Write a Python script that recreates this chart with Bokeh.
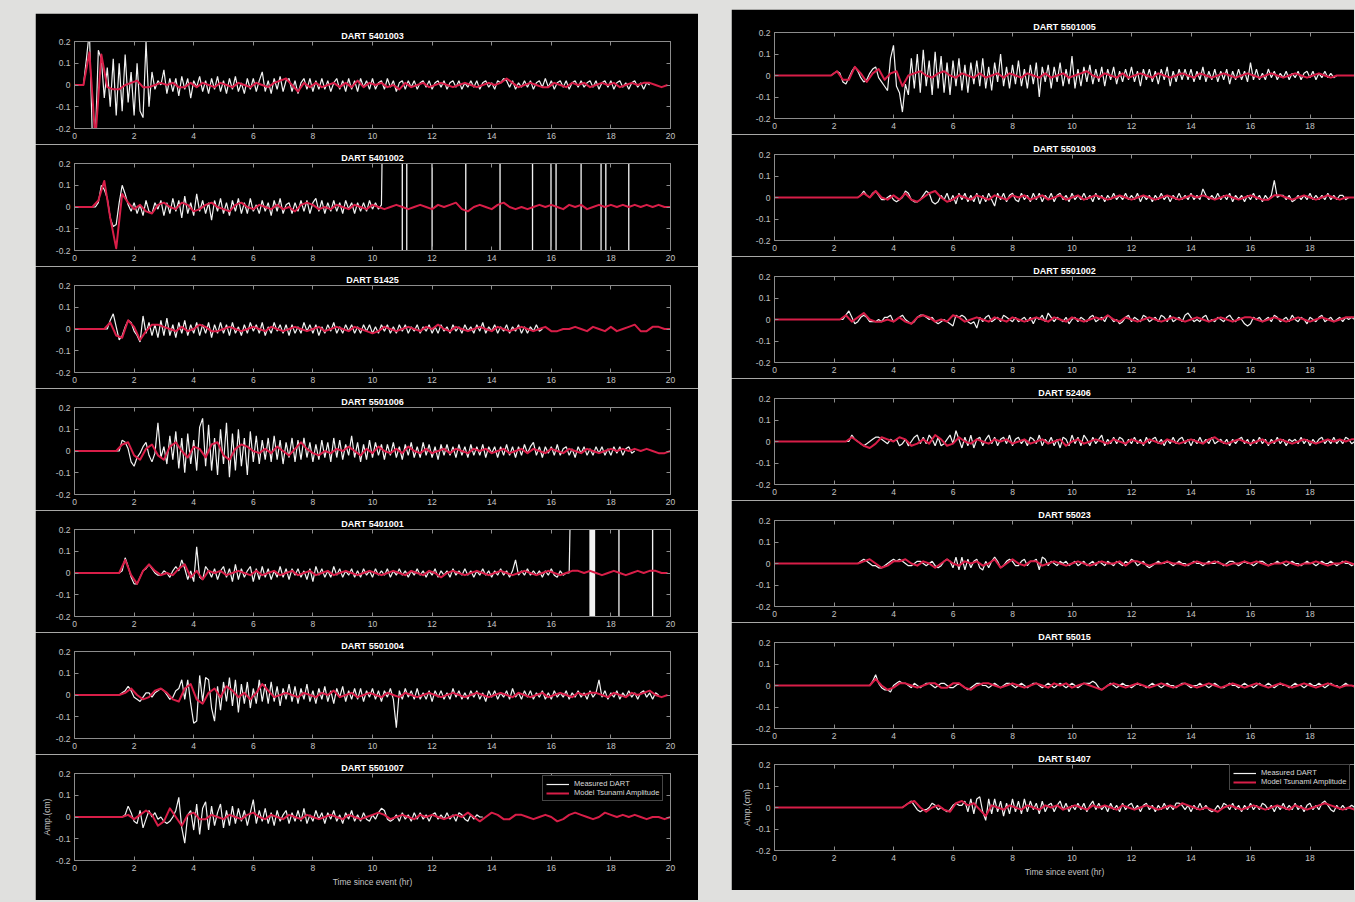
import numpy as np
from bokeh.plotting import figure
from bokeh.layouts import column, row
from bokeh.models import (LinearAxis, FixedTicker, CustomJSTickFormatter, Range1d,
                          Spacer, Legend, LegendItem, GlobalInlineStyleSheet)
from bokeh.embed import file_html
from bokeh.resources import INLINE

# ---------------------------------------------------------------- data
# amplitudes are given in hundredths of a cm (0.01 cm); times in hours
SCALE = 0.01
MEAS_DT = 0.1    # sampling of the measured (white) traces
MODEL_DT = 0.2   # sampling of the model (red) traces
OFF = 0.6        # off-scale value (cm) used for the saturated DART segments

left_names = ["DART 5401003", "DART 5401002", "DART 51425", "DART 5501006",
              "DART 5401001", "DART 5501004", "DART 5501007"]
right_names = ["DART 5501005", "DART 5501003", "DART 5501002", "DART 52406",
               "DART 55023", "DART 55015", "DART 51407"]

left_meas_t0 = [0.3, 0.7, 1.1, 1.5, 1.5, 1.5, 1.5]
left_model_t0 = [0.3, 0.6, 1.0, 1.4, 1.5, 1.5, 1.4]
right_meas_t0 = [1.9, 2.8, 2.3, 2.5, 2.8, 3.2, 4.3]
right_model_t0 = [1.9, 2.8, 2.2, 2.4, 2.8, 3.2, 4.3]

x_ticks = [0, 2, 4, 6, 8, 10, 12, 14, 16, 18, 20]
y_ticks = [-0.2, -0.1, 0, 0.1, 0.2]

# saturated segments (white vertical lines)
jump_5401002 = 10.36
spikes_5401002 = [11.0, 11.15, 12.0, 13.13, 14.28, 15.37, 15.99, 16.16, 17.0, 17.67, 17.83, 18.6]
jump_5401001 = 16.68
spikes_5401001 = [17.3, 17.33, 17.36, 17.39, 17.42, 17.45, 18.27, 19.4]

m_5401003 = [0,12,25,-25,-25,16,12,-6,8,-10,
             12,-14,10,-12,14,-8,6,-14,10,-12,
             -15,20,-10,6,-2,2,0,7,-4,3,
             -3,3,-5,4,-2,3,-6,2,-1,4,
             -3,2,-4,3,-2,4,-3,2,-4,3,
             -2,4,-3,1,-4,3,-2,3,-3,2,
             6,-3,2,-4,3,-2,4,-3,2,3,
             -3,2,-4,1,3,-2,3,-3,2,-2,
             3,-2,2,-3,1,3,-2,2,-3,3,
             -2,2,-3,3,-1,2,-2,3,-2,1,
             2,-2,3,-1,2,-3,1,2,-2,2,
             -1,2,-2,1,2,-1,2,-2,1,2,
             -1,2,-2,1,2,-1,2,-2,1,-1,
             2,-1,2,-2,1,2,-1,1,-2,2,
             1,3,2,-1,2,-2,1,-1,2,-1,
             2,-2,1,2,-1,3,-1,2,-2,1,
             2,-1,2,-2,1,2,-1,2,-1,1,
             2,-1,2,-2,1,2,-1,2,-2,1,
             2,-1,1,-2,1,2,-1,1,-2,1,0]
s_5401003 = [0,15,-25,14,-1,-2,-2,0,1,2,
             -1,-1,0,1,0,1,-1,-1,1,-1,
             1,0,-1,1,0,-1,1,0,-1,1,
             0,-1,1,2,3,0,-3,1,-1,1,
             -1,0,1,-1,1,-1,2,-1,1,0,
             1,-1,0,-2,1,-1,0,1,-1,0,
             1,0,-1,0,1,0,-1,0,1,0,
             1,3,1,-1,0,1,0,-1,-1,1,
             0,-1,1,0,1,-1,0,1,0,1,
             -1,0,1,0,1,1,0,-1,0]

m_5401002 = [0,2,10,8,4,-5,-9,-8,2,10,
             6,1,-2,2,-3,1,-4,3,-2,-3,
             2,-1,3,-4,2,-3,4,-2,3,-5,
             5,-3,2,-4,6,-2,3,-3,2,-6,
             3,-2,4,-3,2,-4,3,-2,4,-3,
             2,-3,4,-2,1,-3,3,-2,2,-4,
             3,-2,4,-3,1,2,-3,2,-2,3,
             -2,3,-3,2,4,-2,3,-3,2,-2,
             3,-2,2,-3,3,-1,2,-3,2,-2,
             2,-2,3,-1,2,-1,1]
s_5401002 = [0,3,12,-5,-19,6,2,-1,1,-2,
             -3,1,2,0,-1,2,1,-2,-1,1,
             2,0,-1,-2,1,2,0,-1,1,0,
             -1,1,-1,0,-2,1,2,1,-1,0,
             -1,1,0,-1,1,0,-1,1,0,-1,
             0,1,0,-1,0,1,0,-1,1,0,
             1,2,-1,-2,0,1,0,-1,1,2,
             0,-1,0,-1,0,1,0,1,0,-1,
             1,0,1,-1,0,1,0,1,0,1,
             0,1,0,1,0,1,0,0]

m_51425 = [0,4,7,1,-5,-3,1,4,3,-1,
           -3,-6,6,-2,3,-3,2,-4,4,-3,
           5,-3,2,-4,3,-2,4,-3,2,-2,
           3,-3,2,-2,3,-4,2,-2,3,-2,
           2,-3,3,-2,1,-3,2,-2,3,-1,
           2,-2,3,-3,1,-2,3,-1,2,-2,
           2,-3,2,-2,1,-2,3,-1,2,-2,
           2,-3,1,-2,2,-1,3,-2,1,-2,
           2,-1,2,-2,1,-2,2,-1,2,-2,
           1,-2,2,-1,2,-2,1,-2,2,-1,
           2,-2,1,-1,2,-2,1,-1,2,-2,
           1,-2,2,-1,1,-2,2,-1,1,-2,
           2,-1,1,-2,2,-1,3,-2,1,-1,
           2,-2,1,-1,2,-2,1,-1,2,-2,
           1,-2,1,-1,2,-1,0]
s_51425 = [0,3,-3,-4,4,1,-5,-1,2,2,
           1,0,-1,1,-1,0,2,1,-1,-1,
           0,1,0,-1,0,1,0,-1,1,0,
           -1,0,1,0,-1,0,1,-1,0,1,
           0,-1,1,0,-1,-2,-1,1,0,-1,
           0,1,0,-1,1,0,2,0,-1,1,
           0,-1,0,1,0,-1,1,0,-1,0,
           1,0,-1,0,1,-1,-1,0,0,1,
           0,-1,1,0,-1,1,-1,0,1,2,
           -1,-1,1,1,0,0]

m_5501006 = [0,5,4,1,-5,-7,-3,-1,2,4,
             -2,-5,-1,13,-3,2,-6,7,-4,9,
             -8,6,-10,8,-6,5,-9,11,15,-7,
             12,-9,6,-11,10,-6,13,-12,8,-9,
             10,-7,6,-11,9,-5,7,-6,5,-4,
             6,-5,7,-4,5,-6,4,-3,6,-5,
             5,-4,6,-3,4,-5,3,-4,5,-3,
             4,-5,6,-3,5,-4,3,-2,7,-3,
             4,-5,3,-4,5,-3,4,-2,3,-4,
             3,-2,4,-3,2,-4,3,-2,4,-3,
             2,-3,4,-2,3,-3,2,-4,3,-2,
             3,-2,2,-3,3,-2,2,-3,3,-2,
             2,-2,3,-3,2,-1,2,-3,2,-2,
             3,-2,2,-3,2,-2,3,-1,2,4,
             -2,2,-3,2,-1,2,-2,3,-2,1,
             2,-2,1,-3,2,-1,2,-2,1,-2,
             2,-1,2,-2,1,-2,2,-1,2,-2,
             1,2,-1,0]
s_5501006 = [0,3,4,-2,-4,1,3,-2,-4,2,
             4,0,-3,2,1,-3,3,4,-2,-4,
             1,3,2,0,-1,1,-1,2,0,-2,
             1,4,1,-1,-2,0,-1,1,0,2,
             0,-2,1,-1,2,0,-1,1,-1,2,
             0,-1,1,-1,0,1,-1,1,0,-1,
             1,0,1,-1,0,1,-1,0,1,-1,
             1,0,-1,1,0,-1,1,0,-1,1,
             0,-1,0,1,0,1,0,1,0,1,
             0,-1,-1,0]

m_5401001 = [0,1,7,3,-2,-5,-5,-2,1,2,
             4,2,0,-1,-1,1,0,-2,1,3,
             1,6,2,-3,1,-4,12,-2,-3,3,
             1,-2,2,-3,1,3,-2,2,-4,4,
             -3,2,-2,1,3,-4,2,-3,3,-2,
             2,-3,1,-2,3,-2,2,-3,2,-1,
             2,-2,1,-3,2,-4,3,-1,2,-2,
             1,-2,3,-1,2,-2,1,-1,2,-2,
             1,-2,2,-1,1,-2,2,-1,1,-1,
             2,-2,1,-1,2,-1,1,-2,1,-1,
             2,-1,1,-2,1,-1,2,-2,1,-1,
             1,-2,2,-1,1,-1,2,-1,1,-2,
             1,-1,2,-1,1,-2,1,-1,2,-1,
             1,-2,1,6,-1,1,-1,2,-1,1,
             -1,1,-2,1,-1,2,-1,-2,1,-1,
             0,0]
s_5401001 = [0,6,-1,-5,1,4,1,-1,0,-1,
             2,4,-2,1,-3,1,0,1,-1,0,
             1,0,-1,1,-1,0,1,-1,0,1,
             -1,0,1,-1,0,1,-1,0,1,0,
             -1,0,1,0,-1,0,1,0,-1,1,
             0,-1,1,0,-2,0,1,0,-1,0,
             1,0,-1,0,1,0,-1,0,1,0,
             -1,0,1,0,-1,0,1,1,0,1,
             0,-1,0,1,0,-1,0,1,0,1,
             1,0,0]

m_5501004 = [0,1,2,4,2,-1,-2,-3,-1,1,
             1,-1,1,2,3,2,0,-2,-1,2,
             3,7,-2,7,-4,-13,-12,9,-3,8,
             7,-6,-12,4,-7,6,-3,8,-5,7,
             -8,5,-4,6,-6,3,-4,7,-3,5,
             -4,6,-3,4,-5,3,-2,5,-3,4,
             -4,3,-2,5,-3,2,-4,3,-2,4,
             -3,2,-4,3,-1,4,-3,2,-2,3,
             -2,3,-3,2,-1,3,-2,2,-3,2,
             -1,3,-2,-15,2,-2,3,-1,2,-2,
             3,-2,1,-2,2,-3,2,-1,2,-2,
             1,-2,3,-1,2,-2,1,-2,2,-1,
             2,-2,1,-3,2,-1,2,-2,1,-1,
             2,-2,3,-1,1,-2,2,-1,2,-2,
             1,-1,2,-2,1,-2,2,-1,1,-1,
             2,-2,1,-1,2,-1,1,-2,2,-1,
             1,7,-1,2,-2,1,-1,2,-2,1,
             -1,2,-1,1,-2,1,2,-1,1,-2,
             1,0]
s_5501004 = [0,1,3,0,-2,-1,2,3,1,-2,
             -3,3,5,-2,-4,1,3,-1,4,2,
             -1,1,-2,1,5,2,-1,0,1,0,
             -1,1,0,-1,1,0,2,-1,0,1,
             -1,0,1,0,-1,1,0,-1,1,0,
             -1,0,1,0,-1,0,1,0,-1,0,
             1,0,-1,0,1,0,-1,1,0,-1,
             0,1,-1,0,1,0,-1,1,0,1,
             1,0,-1,1,0,-1,1,0,1,2,
             0,-1,0]

m_5501007 = [0,0,1,5,2,-2,-3,3,-5,-1,
             3,0,2,-1,0,-2,-3,-2,0,3,
             9,-5,-12,1,3,-6,6,-8,4,7,
             -6,5,-4,2,6,-5,3,-4,5,-3,
             4,-2,3,-4,2,8,-3,3,-2,4,
             -3,2,-4,3,-2,1,3,-3,2,-2,
             3,-2,4,-3,1,-2,3,-1,2,-3,
             2,-1,3,-2,1,-3,2,-1,3,-2,
             1,-2,2,-1,-2,1,-1,2,4,3,
             -1,-2,-1,1,-2,2,-1,1,-2,2,
             -1,2,-1,1,-2,1,2,-1,1,-1,
             2,-1,1,-2,2,1,-1,-2,1,-1,
             1,0,0]
s_5501007 = [0,0,1,-1,1,3,1,-4,-2,4,
             0,-4,1,2,-1,-1,1,0,-1,1,
             0,-1,1,2,0,-1,1,0,-1,1,
             0,-1,1,0,-1,0,1,0,-1,1,
             0,-1,0,1,2,1,-1,0,1,0,
             -1,1,0,1,0,-1,0,1,0,2,
             0,-2,0,2,1,-1,-1,1,1,0,
             -1,0,1,0,-2,-1,1,2,1,0,
             -1,0,2,1,0,1,0,1,0,-1,
             0,0,-1,0]

m_5501005 = [0,1,2,1,-3,-4,-1,2,4,2,
             -1,-3,-2,1,3,4,-1,-3,-5,-7,
             8,14,-5,-8,-17,-4,-9,8,-6,10,
             -8,12,-5,7,-9,11,-6,9,-8,6,
             -9,7,-5,8,-7,5,-8,6,-4,7,
             -5,8,-6,4,-7,6,-3,10,-5,4,
             -6,5,-4,7,-5,3,-6,5,-4,6,
             -10,4,-3,5,-6,4,-3,6,-5,3,
             -4,9,-6,3,-5,4,-3,5,-4,3,
             -3,4,-5,3,-2,4,-4,2,-3,3,
             -2,4,-3,2,-5,3,-2,3,-3,2,
             -4,3,-2,4,-5,2,-3,3,-2,3,
             -2,3,-3,2,-2,4,-3,2,-2,3,
             -3,2,-2,3,-4,2,-2,3,-2,2,
             -3,6,-2,3,-2,1,-2,3,-1,2,
             -2,1,-1,2,-2,1,-1,2,-2,1,
             2,-1,2,-2,1,-1,2,-1,1,-1,
             0]
s_5501005 = [0,2,-2,-2,4,1,-3,1,3,-2,
             1,2,-5,0,1,2,0,-1,1,2,
             0,-1,1,0,-1,1,-1,0,1,-1,
             1,0,-1,1,0,-1,1,-1,0,1,
             -1,0,1,2,0,-1,1,0,-1,1,
             -1,0,1,0,-1,1,0,-1,0,1,
             0,-1,1,0,-1,0,1,0,-1,0,
             1,0,-1,0,1,0,-1,0,1,0,
             -1,0,1,0,-1,0,0,0,0]

m_5501003 = [0,1,3,1,0,2,3,1,-1,-1,
             0,1,-1,-2,-1,0,3,2,-1,-2,
             -2,-1,1,3,2,-2,-3,-2,1,-1,
             2,-2,1,-3,2,-1,2,-2,1,-2,
             2,-3,1,-2,2,-1,-4,2,-1,2,
             -2,1,2,-1,-2,2,-1,1,-2,2,
             -1,2,-2,1,-1,2,-2,1,2,-1,
             1,-2,2,-1,1,-1,2,-1,1,-2,
             2,-1,1,-2,1,-1,2,-1,1,-1,
             2,-1,1,-1,2,-2,1,-1,1,-2,
             1,-1,2,-1,1,-2,1,-1,2,-1,
             1,-1,2,-1,1,-1,4,1,-1,1,
             -1,2,-1,1,-1,2,-2,1,-1,1,
             -2,1,-1,2,-1,1,-2,1,-1,1,
             8,0,1,1,-1,1,-2,-1,1,-1,
             1,-1,2,-1,1,-1,1,-1,2,-1,
             1,-1,1,1,-1,0,0]
s_5501003 = [0,2,0,3,0,-1,1,-1,2,-1,
             -2,0,2,3,0,-2,-1,1,0,-1,
             1,0,-1,1,0,-1,1,0,1,-1,
             0,1,-1,0,1,-1,0,1,-1,0,
             1,0,-1,0,1,0,-1,0,1,0,
             -1,0,1,0,-1,0,1,0,1,0,
             -1,0,1,0,-1,0,1,0,-1,-1,
             1,1,0,-1,0,1,0,-1,0,1,
             0,-1,0,0,0]

m_5501002 = [0,2,4,1,-2,-1,1,2,1,-1,
             -1,-1,0,-1,1,1,2,-1,0,1,
             2,0,-1,-2,-1,1,2,2,1,0,
             1,-1,-2,-1,0,-1,-2,-3,2,1,
             2,1,-1,-2,-1,-4,1,-1,1,2,
             -1,0,1,-1,2,1,0,-1,1,-1,
             0,1,-1,1,-2,1,0,2,-1,3,
             1,-1,1,0,-1,1,-2,0,1,-1,
             1,0,-1,1,2,-1,0,1,-1,2,
             1,-1,0,-2,-1,1,2,-1,1,0,
             -1,2,1,-1,0,1,-1,2,1,-1,
             2,-1,0,1,-1,2,3,1,-1,0,
             -1,1,2,-1,0,-1,1,0,-1,1,
             2,0,-1,1,0,-2,-3,-2,1,0,
             1,-1,0,1,-1,2,1,-1,0,1,
             -1,2,0,-1,1,0,-2,1,0,-1,
             1,2,-1,0,1,-1,0,1,-1,1,
             0,1,0]
s_5501002 = [0,2,-1,1,3,0,-1,-1,0,-1,
             1,-1,-2,1,2,1,-1,0,-1,2,
             1,-1,0,1,0,-1,1,0,-1,1,
             0,-1,0,1,0,-1,1,0,-1,1,
             0,-1,0,1,0,2,0,-1,1,0,
             -1,0,1,0,-1,0,1,0,-1,0,
             1,0,-1,0,1,0,-1,0,1,1,
             0,-1,0,1,0,-1,0,1,0,-1,
             0,1,0,-1,0,1,1,1]

m_52406 = [0,3,1,0,-1,-2,-1,0,1,2,
           2,1,0,-1,1,0,1,-2,-1,1,
           -2,0,2,3,-1,2,-1,3,1,-2,
           2,-2,-1,1,3,-1,5,1,-3,2,
           -2,3,-3,1,2,-2,1,3,-1,2,
           -2,1,2,-1,3,-2,1,2,-1,1,
           -2,2,1,-1,3,-2,1,-1,2,-2,
           1,-3,2,1,-2,3,-1,2,-2,3,
           1,-2,2,-1,1,3,-2,1,-1,2,
           -1,2,1,-2,1,-1,2,-1,1,-2,
           2,-1,1,2,-1,1,-2,1,-1,2,
           -1,1,2,-1,1,-2,1,-1,2,-1,
           1,-1,2,-1,0,1,-1,1,-2,1,
           -1,1,2,-1,1,-2,1,-1,2,-1,
           1,-2,1,-1,2,-1,1,-2,1,0,
           1,-1,2,-1,1,-2,1,-1,1,2,
           -1,1,-1,2,-1,1,-1,2,1,-1,
           0]
s_52406 = [0,2,0,-2,-3,-1,2,1,0,2,
           1,-2,-1,1,-1,3,1,-2,-1,2,
           0,-1,1,0,-1,1,0,1,-1,0,
           1,-1,0,1,-1,0,1,-2,0,1,
           -1,0,1,0,-1,1,0,-1,1,0,
           -1,1,0,-1,1,0,-1,0,1,0,
           -1,1,2,0,-1,0,1,0,-1,0,
           1,-1,0,1,0,-1,0,1,0,-1,
           0,1,0,1,0,1,1]

m_55023 = [0,1,2,1,0,-1,-1,-2,-2,-1,
           0,1,2,1,2,1,0,-1,-1,0,
           1,1,0,-1,0,1,-1,-2,-1,1,
           2,1,-2,3,-3,3,-3,2,-2,1,
           2,-2,-3,1,-2,1,3,1,-2,-1,
           1,2,1,-1,-1,1,2,-1,1,1,
           2,-3,3,2,-1,1,0,-1,1,0,
           1,-1,0,1,-1,0,1,-1,0,1,
           -1,1,0,-1,1,0,-1,1,0,-1,
           1,0,2,1,-1,0,1,-1,-2,-1,
           0,1,0,0,1,0,-1,0,1,0,
           0,-1,0,1,0,0,-1,0,1,0,
           0,1,0,-1,0,1,1,0,-1,0,
           1,0,0,-1,0,1,1,0,-1,0,
           0,1,0,0,-1,0,1,0,0,-1,
           0,1,0,0,-1,0,1,0,0,1,
           0,-1,0,1,0,0,-1,0]
s_55023 = [0,1,2,0,-2,-1,1,1,2,0,
           -1,1,0,-2,0,2,0,-1,1,0,
           1,-1,0,2,-2,0,2,0,-1,1,
           1,-1,0,1,0,-1,0,1,0,-1,
           0,1,0,0,1,-1,1,1,0,-1,
           0,0,1,0,0,-1,0,1,0,0,
           1,0,-1,0,0,1,0,1,0,-1,
           0,0,1,0,-1,0,0,1,0,-1,
           0,0,1,0,-1]

m_55015 = [0,2,5,1,-1,-2,-2,-3,0,1,
           2,1,1,0,-1,1,0,-1,0,1,
           1,0,-1,0,1,1,0,-1,-1,0,
           1,0,-1,-2,-1,0,1,1,0,0,
           -1,0,1,0,-1,0,1,1,0,-1,
           0,1,0,-1,0,1,1,0,-1,0,
           1,0,-1,0,1,0,-1,0,1,0,
           -1,0,1,1,1,2,1,-1,-2,-1,
           0,1,0,-1,0,1,0,0,-1,0,
           1,0,0,-1,0,1,0,0,-1,0,
           1,0,0,-1,0,1,1,0,-1,0,
           0,1,0,0,-1,0,1,0,-1,-1,
           0,1,0,0,-1,0,1,0,0,-1,
           0,1,0,0,1,0,-1,0,1,0,
           0,-1,0,1,0,0,-1,0,1,0,
           0,1,0,-1,0,1,0,0,-1,0,
           1,0,0,0]
s_55015 = [0,3,0,-2,-1,1,1,0,-1,0,
           1,1,-1,-1,1,1,-1,-2,0,1,
           1,0,-1,0,1,0,-1,0,1,0,
           -1,1,0,1,-1,0,1,0,-1,-2,
           0,1,0,-1,0,1,0,-1,0,1,
           0,-1,0,1,0,-1,0,1,0,-1,
           0,1,0,-1,0,1,0,-1,0,1,
           0,-1,0,1,0,-1,0,1,0,-1,
           0,0,-1]

m_51407 = [0,1,2,3,1,-1,-2,-1,-1,0,
           2,1,-1,0,-1,-2,-1,1,2,1,
           1,3,-2,4,-3,4,5,-2,-6,4,
           -3,4,-2,3,-4,2,-3,4,-2,3,
           -3,4,-2,3,-1,2,-3,3,-2,1,
           2,-2,1,3,-1,2,-2,1,-1,2,
           -1,2,-2,1,3,-1,2,-1,1,-2,
           2,-1,1,-2,2,-1,1,2,-1,1,
           -2,1,2,-1,1,-2,1,-1,2,-1,
           1,-1,2,2,1,-1,1,-2,1,-1,
           2,-1,1,-1,-2,-1,1,-1,2,1,
           -1,2,-1,1,-2,1,-1,2,-1,1,
           -1,2,1,-1,1,-2,1,-1,2,-1,
           1,-1,2,-1,1,-2,1,2,-1,1,
           -1,2,3,1,-1,-2,1,-1,1,-1,
           0,1,0]
s_51407 = [0,2,3,0,-2,0,1,-1,-2,2,
           3,1,2,-1,-4,1,0,-1,1,0,
           -1,1,0,-1,1,0,1,-1,0,1,
           0,-1,1,0,1,0,-1,1,0,-1,
           0,1,0,-1,0,1,0,2,1,0,
           -1,0,-1,-2,0,1,0,-1,0,1,
           0,-1,0,1,0,-1,1,0,-1,0,
           1,2,1,0,-1,0,-1]

left_meas = [m_5401003, m_5401002, m_51425, m_5501006, m_5401001, m_5501004, m_5501007]
left_model = [s_5401003, s_5401002, s_51425, s_5501006, s_5401001, s_5501004, s_5501007]
right_meas = [m_5501005, m_5501003, m_5501002, m_52406, m_55023, m_55015, m_51407]
right_model = [s_5501005, s_5501003, s_5501002, s_52406, s_55023, s_55015, s_51407]
saturation = {"DART 5401002": (jump_5401002, spikes_5401002),
              "DART 5401001": (jump_5401001, spikes_5401001)}

# ---------------------------------------------------------------- style
FONT = "Liberation Sans"
BG = "#000000"
AXIS_C = "#8c8c8c"
LABEL_C = "#c4c4c4"
WHITE = "#f2f2f2"
RED = "#d81e48"
PAGE = "#e0e0de"
PX_PER_HR = 29.75


def series(t0, dt, vals):
    t = [0.0] + [round(t0 + dt * i, 4) for i in range(len(vals))]
    v = [0.0] + [x * SCALE for x in vals]
    return t, v


def style_axis(ax, ticks, labels=True):
    ax.ticker = FixedTicker(ticks=ticks)
    ax.axis_line_color = AXIS_C
    ax.axis_line_width = 1
    ax.major_tick_line_color = AXIS_C
    ax.major_tick_in = 4
    ax.major_tick_out = 0
    ax.minor_tick_line_color = None
    ax.major_label_text_font = FONT
    if labels:
        ax.major_label_text_color = LABEL_C
        ax.major_label_text_font_size = "8.5px"
        ax.major_label_standoff = 4
    else:
        ax.major_label_text_color = None
        ax.major_label_text_font_size = "1px"
        ax.major_label_standoff = 0


def make_panel(names, meas, meas_t0, model, model_t0, xmax, border_l, frame_w, border_r,
               frame_h, tops, bots, right_axis, legend_loc):
    figs = []
    n = len(names)
    for i in range(n):
        last = i == n - 1
        p = figure(width=border_l + frame_w + border_r, height=tops[i] + frame_h + bots[i],
                   x_range=Range1d(0, xmax), y_range=Range1d(-0.2, 0.2),
                   output_backend="svg", toolbar_location=None,
                   min_border_left=border_l, min_border_right=border_r,
                   min_border_top=tops[i], min_border_bottom=bots[i],
                   background_fill_color=BG, border_fill_color=BG,
                   outline_line_color=None, title=names[i])
        p.xgrid.visible = False
        p.ygrid.visible = False
        p.title.align = "center"
        p.title.text_font = FONT
        p.title.text_font_size = "9px"
        p.title.text_font_style = "bold"
        p.title.text_color = "#ffffff"
        p.title.standoff = 1

        bottom_ax = p.xaxis[0]
        left_ax = p.yaxis[0]
        style_axis(bottom_ax, x_ticks)
        style_axis(left_ax, y_ticks)
        left_ax.formatter = CustomJSTickFormatter(
            code="return Math.abs(tick) < 1e-9 ? '0' : tick.toFixed(1);")
        top_ax = LinearAxis()
        style_axis(top_ax, x_ticks, labels=False)
        p.add_layout(top_ax, "above")
        if right_axis:
            r_ax = LinearAxis()
            style_axis(r_ax, y_ticks, labels=False)
            p.add_layout(r_ax, "right")

        tw, vw = series(meas_t0[i], MEAS_DT, meas[i])
        if names[i] in saturation:
            jump, spikes = saturation[names[i]]
            tw.append(jump)
            vw.append(OFF)
            for s in spikes:
                tw += [s - 0.004, s, s + 0.004]
                vw += [OFF, -OFF, OFF]
            tw.append(20.0)
            vw.append(OFF)
        tr, vr = series(model_t0[i], MODEL_DT, model[i])
        rw = p.line(tw, vw, line_color=WHITE, line_width=1.2)
        rr = p.line(tr, vr, line_color=RED, line_width=2.0, line_join="round")

        if last:
            bottom_ax.axis_label = "Time since event (hr)"
            left_ax.axis_label = "Amp.(cm)"
            for ax in (bottom_ax, left_ax):
                ax.axis_label_text_font = FONT
                ax.axis_label_text_font_size = "8.5px"
                ax.axis_label_text_font_style = "normal"
                ax.axis_label_text_color = LABEL_C
            bottom_ax.axis_label_standoff = 3
            left_ax.axis_label_standoff = 1
            leg = Legend(items=[LegendItem(label="Measured DART", renderers=[rw]),
                                LegendItem(label="Model Tsunami Amplitude", renderers=[rr])],
                         location=legend_loc)
            leg.background_fill_color = BG
            leg.background_fill_alpha = 1
            leg.border_line_color = AXIS_C
            leg.border_line_width = 1
            leg.label_text_font = FONT
            leg.label_text_font_size = "7.5px"
            leg.label_text_color = "#d8d8d8"
            leg.padding = 3
            leg.margin = 0
            leg.spacing = 0
            leg.glyph_width = 23
            leg.glyph_height = 8
            leg.label_height = 8
            leg.label_standoff = 5
            p.add_layout(leg)
        figs.append(p)
    return column(*figs, spacing=0)


left = make_panel(left_names, left_meas, left_meas_t0, left_model, left_model_t0,
                  xmax=20, border_l=39, frame_w=596, border_r=28, frame_h=87,
                  tops=[28, 19, 19, 19, 19, 19, 19], bots=[16, 16, 16, 16, 16, 16, 40],
                  right_axis=True, legend_loc=(468, 59))
RIGHT_FRAME_W = 580
right = make_panel(right_names, right_meas, right_meas_t0, right_model, right_model_t0,
                   xmax=RIGHT_FRAME_W / PX_PER_HR, border_l=43, frame_w=RIGHT_FRAME_W, border_r=0,
                   frame_h=86,
                   tops=[23, 20, 20, 20, 20, 20, 20], bots=[16, 16, 16, 16, 16, 16, 40],
                   right_axis=False, legend_loc=(455, 60))

page = row(Spacer(width=35, height=10),
           column(Spacer(width=10, height=13), left),
           Spacer(width=33, height=10),
           column(Spacer(width=10, height=9), right),
           styles={"background-color": PAGE},
           stylesheets=[GlobalInlineStyleSheet(css="body { background-color: %s; }" % PAGE)])

open("out.html", "w").write(file_html(page, INLINE))
